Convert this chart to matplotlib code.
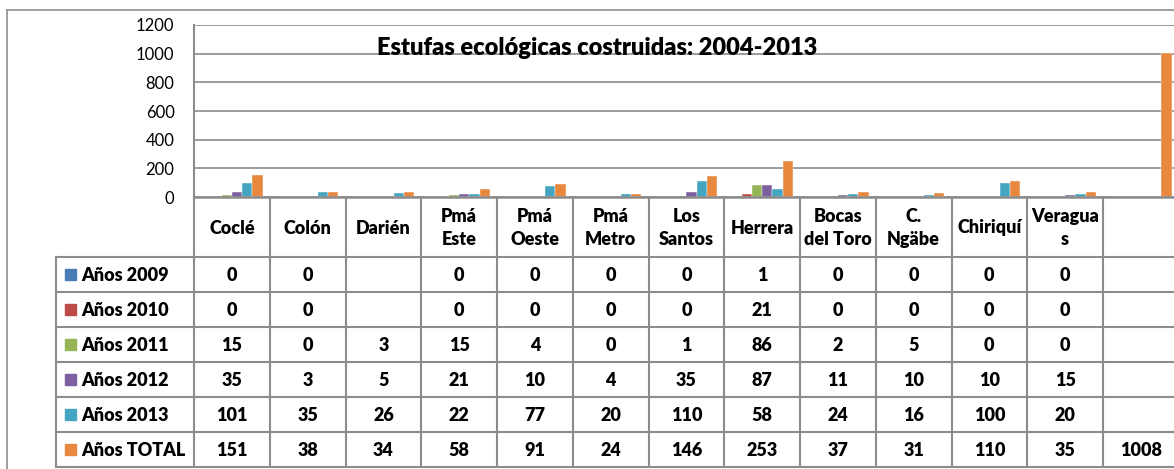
import numpy as np
import matplotlib
matplotlib.use('Agg')
import matplotlib.pyplot as plt
from matplotlib.patches import Rectangle

nan = np.nan

categories = ['Coclé', 'Colón', 'Darién', 'Pmá\nEste', 'Pmá\nOeste', 'Pmá\nMetro',
              'Los\nSantos', 'Herrera', 'Bocas\ndel Toro', 'C.\nNgäbe', 'Chiriquí',
              'Veragua\ns', '']
row_labels = ['Años 2009', 'Años 2010', 'Años 2011', 'Años 2012', 'Años 2013', 'Años TOTAL']

anos_2009 = [0, 0, nan, 0, 0, 0, 0, 1, 0, 0, 0, 0, nan]
anos_2010 = [0, 0, nan, 0, 0, 0, 0, 21, 0, 0, 0, 0, nan]
anos_2011 = [15, 0, 3, 15, 4, 0, 1, 86, 2, 5, 0, 0, nan]
anos_2012 = [35, 3, 5, 21, 10, 4, 35, 87, 11, 10, 10, 15, nan]
anos_2013 = [101, 35, 26, 22, 77, 20, 110, 58, 24, 16, 100, 20, nan]
anos_total = [151, 38, 34, 58, 91, 24, 146, 253, 37, 31, 110, 35, 1008]

series = [anos_2009, anos_2010, anos_2011, anos_2012, anos_2013, anos_total]
colors = ['#4A7DB8', '#BC4B48', '#93B555', '#7C5FA0', '#44A5C0', '#E7883E']

plt.rcParams['font.family'] = ['Lato', 'DejaVu Sans']
BOLD = 800
TS = 13

W, H = 1174, 469
fig = plt.figure(figsize=(W / 100, H / 100), dpi=100)

# layout in pixels
x_axis = 194
col_w = 75.75
y_zero = 197
y_top = 25
n = len(categories)

ax = fig.add_axes([x_axis / W, 1 - y_zero / H, n * col_w / W, (y_zero - y_top) / H])
ax.patch.set_alpha(0)
ax.set_xlim(0, n)
ax.set_ylim(0, 1200)
ax.set_yticks(range(0, 1201, 200))
ax.set_xticks([])
ax.grid(axis='y', color='#8a8a8a', linewidth=1.2)
ax.set_axisbelow(True)
for s in ['top', 'right', 'left', 'bottom']:
    ax.spines[s].set_visible(False)
ax.tick_params(axis='y', length=0, pad=14, labelsize=12)

gi = np.arange(n) + 0.5
bw = 0.135
for j, vals in enumerate(series):
    h = np.nan_to_num(np.array(vals, dtype=float))
    ax.bar(gi + (j - 2.5) * bw, h, width=bw, color=colors[j],
           edgecolor='white', linewidth=0.3, zorder=3)

# overlay for table, border and title (pixel coordinates)
tax = fig.add_axes([0, 0, 1, 1])
tax.set_xlim(0, W)
tax.set_ylim(H, 0)
tax.axis('off')

lc = '#8c8c8c'
lw = 1.5
# outer chart border
tax.plot([7, W], [10, 10], color='#8f8f8f', lw=1.2)
tax.plot([7, 7], [10, H], color='#8f8f8f', lw=1.2)

row_top = 257
row_h = 35
tab_left = 56
tab_right = x_axis + n * col_w
tab_bottom = row_top + len(row_labels) * row_h

# x axis line
tax.plot([x_axis, tab_right], [y_zero, y_zero], color=lc, lw=1.8)
# vertical lines
tax.plot([x_axis, x_axis], [y_top, tab_bottom], color=lc, lw=lw)
for i in range(1, n + 1):
    x = x_axis + i * col_w
    tax.plot([x, x], [y_zero, tab_bottom], color=lc, lw=lw)
tax.plot([tab_left, tab_left], [row_top, tab_bottom], color=lc, lw=lw)
# horizontal lines
for k in range(len(row_labels) + 1):
    y = row_top + k * row_h
    tax.plot([tab_left, tab_right], [y, y], color=lc, lw=lw)

# header labels
for i, c in enumerate(categories):
    tax.text(x_axis + (i + 0.5) * col_w, (y_zero + row_top) / 2 + 1, c,
             ha='center', va='center', fontsize=TS, fontweight=BOLD,
             linespacing=1.4)

# rows
for k, (lab, vals) in enumerate(zip(row_labels, series)):
    yc = row_top + (k + 0.5) * row_h
    tax.add_patch(Rectangle((65, yc - 5.5), 11, 11, color=colors[k]))
    tax.text(81, yc + 1, lab, ha='left', va='center', fontsize=TS, fontweight=BOLD)
    for i, v in enumerate(vals):
        if not np.isnan(v):
            tax.text(x_axis + (i + 0.5) * col_w, yc + 1, f'{int(v)}',
                     ha='center', va='center', fontsize=TS, fontweight=BOLD)

tax.text(597, 55, 'Estufas ecológicas costruidas: 2004-2013', ha='center',
         va='baseline', fontsize=17, fontweight=BOLD)

fig.savefig('out.png', dpi=100)
